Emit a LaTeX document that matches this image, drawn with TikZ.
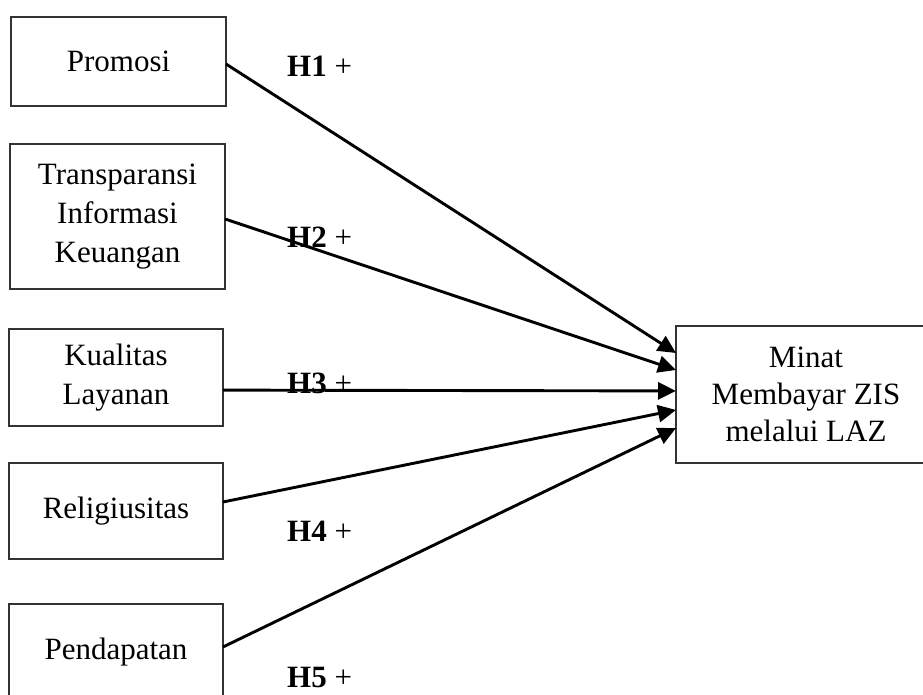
\documentclass[tikz,border=0pt]{standalone}
\usepackage{fontspec}
\setmainfont{Liberation Serif}
\usetikzlibrary{arrows.meta,calc}
\begin{document}
\begin{tikzpicture}[x=1pt,y=-1pt,
  box/.style={draw=black!80,line width=1.4pt,rectangle,inner sep=0pt,outer sep=0pt,align=center,
    font=\fontsize{31}{39}\selectfont},
  conn/.style={line width=2.9pt,-{Triangle[length=18pt,width=17pt]}},
  hyp/.style={anchor=base west,inner sep=0pt,font=\fontsize{31}{36}\selectfont}]
\useasboundingbox (0,0) rectangle (923,695);
\clip (0,0) rectangle (923,695);
\fill[white] (0,0) rectangle (923,695);

\node[box,minimum width=215pt,minimum height=89pt] (p) at (118.5,61.5) {Promosi};
\node[box,minimum width=215pt,minimum height=145pt] (t) at (117.5,216.5) {Transparansi\\Informasi\\Keuangan};
\node[box,minimum width=214pt,minimum height=97pt] (k) at (116,377.5) {Kualitas\\Layanan};
\node[box,minimum width=214pt,minimum height=96pt] (r) at (116,511) {Religiusitas};
\node[box,minimum width=214pt,minimum height=97pt] (d) at (116,652.5) {Pendapatan};
\node[box,minimum width=260pt,minimum height=137pt,font=\fontsize{31}{37}\selectfont] (m) at (806,394.5) {Minat\\Membayar ZIS\\melalui LAZ};

\draw[conn] ($(p.north east)!0.528!(p.south east)$) -- ($(m.north west)!0.197!(m.south west)$);
\draw[conn] ($(t.north east)!0.517!(t.south east)$) -- ($(m.north west)!0.321!(m.south west)$);
\draw[conn] ($(k.north east)!0.63!(k.south east)$) -- ($(m.north west)!0.474!(m.south west)$);
\draw[conn] ($(r.north east)!0.406!(r.south east)$) -- ($(m.north west)!0.613!(m.south west)$);
\draw[conn] ($(d.north east)!0.443!(d.south east)$) -- ($(m.north west)!0.745!(m.south west)$);

\node[hyp] (h1) at (287,77) {\textbf{H1} +};
\node[hyp] (h2) at (287,247) {\textbf{H2} +};
\node[hyp] (h3) at (287,393) {\textbf{H3} +};
\node[hyp] (h4) at (287,541) {\textbf{H4} +};
\node[hyp] (h5) at (287,687) {\textbf{H5} +};
\end{tikzpicture}
\end{document}
